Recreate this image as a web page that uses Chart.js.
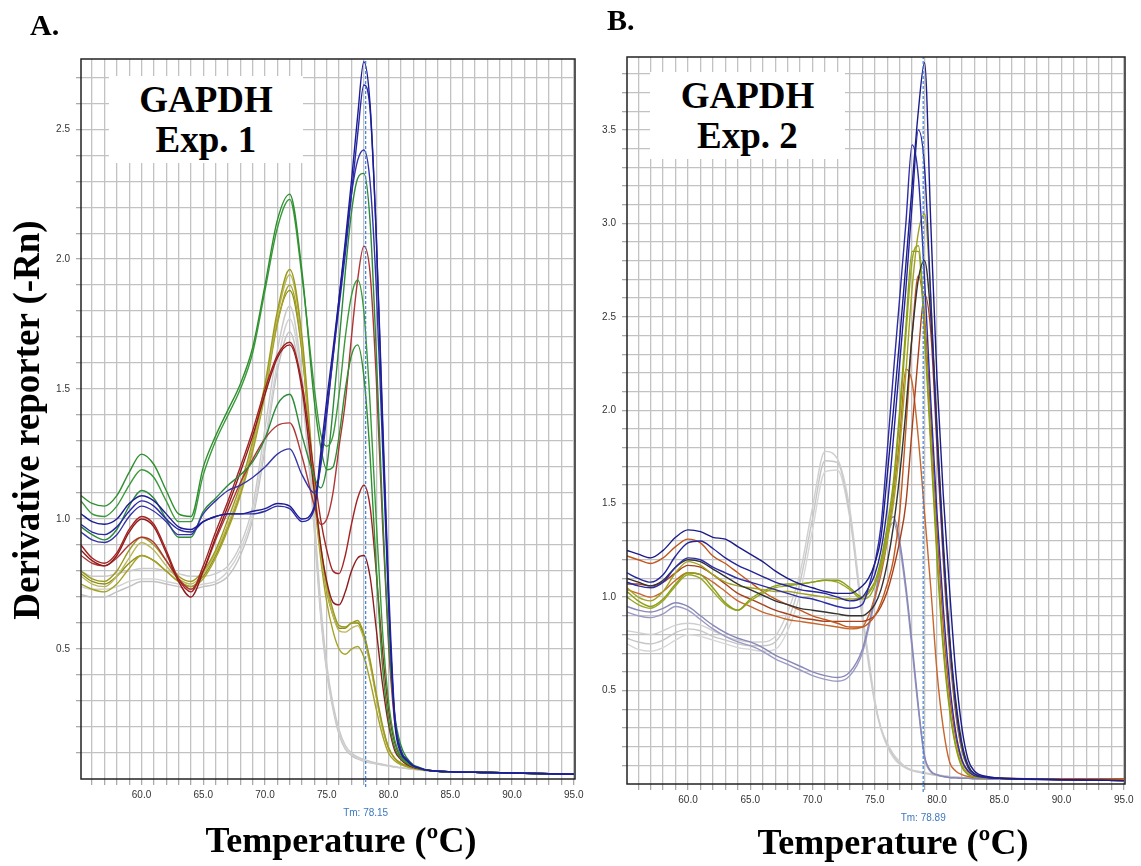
<!DOCTYPE html>
<html>
<head>
<meta charset="utf-8">
<script src="https://cdn.jsdelivr.net/npm/chart.js@4.4.0/dist/chart.umd.min.js"></script>
<style>
  body { margin: 0; background: #fff; width: 1141px; height: 866px; position: relative; overflow: hidden; }
  canvas { position: absolute; top: 0; }
  .t { position: absolute; font-family: "Liberation Serif", "Times New Roman", serif; font-weight: bold; color: #000; white-space: nowrap; }
  .box { position: absolute; background: #fff; text-align: center; font-family: "Liberation Serif", serif; font-weight: bold; font-size: 37px; line-height: 40px; padding-top: 4px; box-sizing: border-box; }
</style>
</head>
<body>
<canvas id="chartA" width="590" height="866" style="left:0px"></canvas>
<canvas id="chartB" width="551" height="866" style="left:590px"></canvas>

<div class="t" style="left:30px;top:10px;font-size:30px;line-height:30px">A.</div>
<div class="t" style="left:607px;top:5px;font-size:30px;line-height:30px">B.</div>
<div class="box" style="left:109px;top:76px;width:194px;height:87px">GAPDH<br>Exp. 1</div>
<div class="box" style="left:650px;top:72px;width:195px;height:87px">GAPDH<br>Exp. 2</div>
<div class="t" style="left:-223px;top:400px;width:500px;height:40px;line-height:40px;text-align:center;font-size:37px;transform:rotate(-90deg)">Derivative reporter (-Rn)</div>
<div class="t" style="left:141px;top:820px;width:400px;line-height:40px;text-align:center;font-size:36px">Temperature (ºC)</div>
<div class="t" style="left:693px;top:822px;width:400px;line-height:40px;text-align:center;font-size:36px">Temperature (ºC)</div>

<script>
// temperatures (°C) shared by every curve
const TEMPS = [55.1, 56, 57, 58, 59, 60, 61, 62, 63, 64, 65, 66, 67, 68, 69, 70, 71, 72, 73,
  74, 74.5, 75, 75.5, 76, 76.5, 77, 77.5, 78, 78.5, 79, 79.5, 80, 80.5, 81, 81.5, 82, 82.5,
  83, 84, 85, 88, 91, 95];

const X_LABELS = [60, 65, 70, 75, 80, 85, 90, 95];
const Y_LABELS_A = [0.5, 1.0, 1.5, 2.0, 2.5];
const Y_LABELS_B = [0.5, 1.0, 1.5, 2.0, 2.5, 3.0, 3.5];

// ---- Exp. 1 (panel A) ----
const A_BLUE_1 = [1.02,0.99,0.98,1.0,1.06,1.09,1.07,1.02,0.97,0.96,0.99,1.01,1.02,1.02,1.03,1.04,1.06,1.05,1.0,
  1.05,1.25,1.46,1.65,1.85,2.07,2.3,2.55,2.76,2.6,2.1,1.38,0.7,0.22,0.1,0.07,0.05,0.042,
  0.035,0.03,0.028,0.025,0.022,0.018];
const A_BLUE_2 = [0.98,0.95,0.94,0.97,1.03,1.07,1.05,1.0,0.96,0.95,0.99,1.01,1.02,1.02,1.02,1.03,1.05,1.04,0.99,
  1.04,1.22,1.42,1.62,1.82,2.02,2.25,2.48,2.67,2.58,2.1,1.42,0.75,0.25,0.11,0.075,0.052,0.043,
  0.035,0.03,0.028,0.025,0.022,0.018];
const A_BLUE_3 = [0.95,0.92,0.91,0.94,1.01,1.05,1.03,0.99,0.94,0.94,1.02,1.07,1.11,1.13,1.16,1.2,1.25,1.27,1.17,
  1.1,1.2,1.4,1.62,1.85,2.05,2.25,2.38,2.42,2.3,1.9,1.3,0.68,0.24,0.11,0.072,0.05,0.042,
  0.035,0.03,0.028,0.025,0.022,0.018];
const A_GREEN_1 = [1.09,1.06,1.05,1.09,1.18,1.25,1.21,1.11,1.02,1.01,1.2,1.32,1.42,1.52,1.66,1.9,2.15,2.25,1.95,
  1.45,1.28,1.19,1.2,1.32,1.5,1.63,1.67,1.55,1.25,0.82,0.44,0.23,0.12,0.08,0.06,0.048,0.04,
  0.035,0.03,0.028,0.025,0.022,0.018];
const A_GREEN_2 = [1.07,1.02,1.01,1.05,1.13,1.19,1.16,1.07,0.99,0.99,1.17,1.3,1.4,1.5,1.64,1.88,2.12,2.23,1.93,
  1.5,1.33,1.28,1.32,1.48,1.7,1.86,1.92,1.8,1.45,1.0,0.58,0.3,0.15,0.09,0.065,0.05,0.042,
  0.035,0.03,0.028,0.025,0.022,0.018];
const A_GREEN_3 = [0.97,0.94,0.92,0.96,1.05,1.11,1.08,1.0,0.93,0.93,1.03,1.08,1.13,1.17,1.22,1.31,1.44,1.48,1.32,
  1.16,1.12,1.2,1.42,1.68,1.95,2.18,2.31,2.33,2.15,1.65,1.05,0.55,0.25,0.13,0.08,0.055,0.045,
  0.035,0.03,0.028,0.025,0.022,0.018];
const A_RED_1 = [0.9,0.85,0.83,0.87,0.96,1.01,0.98,0.88,0.77,0.72,0.82,0.95,1.07,1.2,1.34,1.5,1.63,1.68,1.52,
  1.17,1.0,0.88,0.8,0.79,0.86,0.98,1.08,1.13,1.05,0.8,0.5,0.27,0.14,0.085,0.06,0.046,0.04,
  0.035,0.03,0.028,0.025,0.022,0.018];
const A_RED_2 = [0.88,0.84,0.82,0.86,0.95,1.0,0.97,0.87,0.76,0.7,0.8,0.93,1.05,1.18,1.32,1.48,1.62,1.67,1.5,
  1.1,0.9,0.76,0.68,0.67,0.72,0.8,0.85,0.86,0.78,0.58,0.37,0.21,0.11,0.075,0.055,0.045,0.04,
  0.035,0.03,0.028,0.025,0.022,0.018];
const A_RED_3 = [0.86,0.83,0.82,0.85,0.9,0.93,0.91,0.84,0.77,0.73,0.8,0.92,1.03,1.14,1.23,1.31,1.36,1.37,1.24,
  1.05,0.98,1.0,1.1,1.28,1.45,1.7,1.92,2.05,1.95,1.55,1.0,0.52,0.22,0.11,0.07,0.05,0.042,
  0.035,0.03,0.028,0.025,0.022,0.018];
const A_OLIVE_1 = [0.8,0.77,0.76,0.8,0.88,0.93,0.9,0.84,0.78,0.76,0.8,0.88,1.0,1.13,1.3,1.52,1.8,1.96,1.7,
  1.13,0.9,0.75,0.65,0.59,0.585,0.6,0.61,0.56,0.46,0.33,0.21,0.12,0.08,0.06,0.05,0.042,0.038,
  0.034,0.03,0.028,0.025,0.022,0.018];
const A_OLIVE_2 = [0.78,0.75,0.74,0.78,0.85,0.91,0.88,0.82,0.77,0.75,0.79,0.87,0.98,1.11,1.28,1.5,1.78,1.94,1.68,
  1.1,0.88,0.73,0.63,0.57,0.565,0.58,0.59,0.54,0.44,0.32,0.2,0.12,0.08,0.06,0.05,0.042,0.038,
  0.034,0.03,0.028,0.025,0.022,0.018];
const A_OLIVE_3 = [0.75,0.73,0.72,0.75,0.81,0.86,0.84,0.8,0.76,0.74,0.77,0.85,0.96,1.09,1.26,1.48,1.75,1.9,1.65,
  1.08,0.85,0.68,0.57,0.5,0.48,0.5,0.51,0.47,0.38,0.27,0.17,0.1,0.07,0.055,0.047,0.04,0.037,
  0.034,0.03,0.028,0.025,0.022,0.018];
const A_OLIVE_4 = [0.79,0.76,0.75,0.78,0.83,0.86,0.84,0.8,0.76,0.74,0.78,0.86,0.97,1.1,1.27,1.49,1.76,1.88,1.64,
  1.1,0.88,0.72,0.63,0.58,0.58,0.6,0.6,0.55,0.45,0.32,0.2,0.12,0.08,0.06,0.05,0.042,0.038,
  0.034,0.03,0.028,0.025,0.022,0.018];
const A_GRAY_1 = [0.8,0.78,0.78,0.79,0.8,0.81,0.81,0.8,0.79,0.78,0.78,0.79,0.82,0.9,1.05,1.35,1.65,1.82,1.55,
  1.0,0.68,0.44,0.29,0.19,0.13,0.1,0.085,0.075,0.068,0.062,0.057,0.052,0.048,0.044,0.041,0.038,0.035,
  0.032,0.03,0.028,0.025,0.022,0.018];
const A_GRAY_2 = [0.74,0.73,0.73,0.74,0.76,0.77,0.77,0.76,0.75,0.74,0.75,0.76,0.8,0.88,1.02,1.3,1.6,1.77,1.52,
  0.97,0.65,0.42,0.28,0.18,0.12,0.095,0.08,0.07,0.064,0.06,0.055,0.05,0.046,0.043,0.04,0.037,0.034,
  0.032,0.03,0.028,0.025,0.022,0.018];
const A_GRAY_3 = [0.71,0.7,0.7,0.72,0.74,0.76,0.76,0.75,0.74,0.73,0.74,0.75,0.78,0.86,1.0,1.27,1.57,1.72,1.48,
  0.95,0.63,0.41,0.27,0.17,0.115,0.09,0.077,0.068,0.062,0.058,0.054,0.05,0.046,0.043,0.04,0.037,0.034,
  0.032,0.03,0.028,0.025,0.022,0.018];

// ---- Exp. 2 (panel B) ----
const B_NAVY_1 = [1.25,1.23,1.21,1.25,1.32,1.36,1.35,1.32,1.31,1.27,1.23,1.19,1.14,1.1,1.07,1.05,1.03,1.02,1.02,
  1.06,1.1,1.18,1.32,1.65,2.0,2.38,2.78,3.2,3.6,3.86,3.0,2.17,1.55,1.05,0.6,0.3,0.13,
  0.07,0.04,0.032,0.026,0.022,0.018];
const B_NAVY_2 = [1.13,1.1,1.08,1.12,1.22,1.29,1.3,1.26,1.21,1.17,1.14,1.11,1.08,1.06,1.04,1.03,1.02,1.0,0.98,
  1.0,1.05,1.12,1.25,1.48,1.85,2.25,2.65,3.1,3.5,3.3,2.6,1.85,1.25,0.78,0.42,0.2,0.09,
  0.055,0.035,0.03,0.025,0.022,0.018];
const B_NAVY_3 = [1.08,1.06,1.05,1.08,1.16,1.21,1.2,1.16,1.13,1.1,1.08,1.06,1.04,1.02,1.0,0.99,0.97,0.95,0.94,
  0.96,1.05,1.18,1.38,1.78,2.2,2.6,3.0,3.42,3.25,2.7,2.05,1.45,0.95,0.55,0.28,0.13,0.07,
  0.045,0.035,0.03,0.025,0.022,0.018];
const B_BLACK = [1.1,1.08,1.06,1.09,1.16,1.2,1.19,1.15,1.11,1.07,1.04,1.01,0.98,0.96,0.94,0.93,0.92,0.91,0.9,
  0.9,0.92,0.96,1.04,1.18,1.38,1.65,2.0,2.4,2.7,2.8,2.5,1.9,1.3,0.8,0.45,0.22,0.1,
  0.055,0.037,0.03,0.026,0.022,0.018];
const B_OLIVE_1 = [1.05,1.0,0.98,1.03,1.13,1.19,1.17,1.12,1.08,1.06,1.05,1.04,1.03,1.03,1.02,1.01,1.0,0.99,0.99,
  1.0,1.03,1.08,1.15,1.3,1.5,1.8,2.2,2.65,2.95,3.05,2.6,1.9,1.25,0.75,0.4,0.18,0.085,
  0.05,0.035,0.03,0.026,0.022,0.018];
const B_OLIVE_2 = [1.03,0.98,0.95,0.99,1.07,1.13,1.12,1.05,0.97,0.93,0.99,1.03,1.06,1.07,1.07,1.08,1.09,1.09,1.05,
  1.0,1.02,1.08,1.2,1.38,1.62,2.0,2.45,2.85,2.85,2.4,1.8,1.2,0.72,0.4,0.2,0.09,0.05,
  0.038,0.032,0.03,0.026,0.022,0.018];
const B_OLIVE_3 = [1.0,0.96,0.94,0.98,1.06,1.12,1.1,1.03,0.96,0.93,0.98,1.02,1.05,1.06,1.07,1.08,1.09,1.08,1.04,
  0.99,1.0,1.06,1.17,1.34,1.58,1.95,2.4,2.8,2.88,2.45,1.85,1.25,0.75,0.42,0.21,0.1,0.055,
  0.038,0.032,0.03,0.026,0.022,0.018];
const B_ORANGE_1 = [1.22,1.2,1.18,1.21,1.27,1.31,1.29,1.22,1.18,1.13,1.08,1.03,0.99,0.96,0.93,0.9,0.88,0.86,0.84,
  0.84,0.86,0.9,0.97,1.07,1.2,1.45,1.9,2.4,2.72,2.5,1.95,1.35,0.85,0.48,0.25,0.12,0.065,
  0.045,0.035,0.03,0.028,0.028,0.028];
const B_ORANGE_2 = [1.07,1.07,1.06,1.08,1.13,1.17,1.16,1.12,1.07,1.02,0.99,0.96,0.93,0.91,0.89,0.88,0.87,0.87,0.87,
  0.87,0.88,0.9,0.95,1.03,1.15,1.3,1.5,1.9,2.3,2.62,2.42,1.8,1.2,0.72,0.38,0.18,0.09,
  0.055,0.038,0.032,0.028,0.028,0.028];
const B_ORANGE_3 = [1.04,1.02,1.0,1.03,1.09,1.13,1.12,1.08,1.03,0.98,0.95,0.92,0.9,0.88,0.87,0.86,0.85,0.84,0.83,
  0.84,0.9,1.0,1.12,1.3,1.55,1.85,2.22,2.15,1.85,1.45,1.05,0.6,0.3,0.12,0.07,0.05,0.04,
  0.035,0.032,0.03,0.028,0.028,0.028];
const B_LAV_1 = [0.95,0.93,0.92,0.94,0.97,0.95,0.9,0.85,0.81,0.78,0.76,0.73,0.69,0.66,0.63,0.6,0.58,0.57,0.6,
  0.72,0.85,1.0,1.18,1.36,1.43,1.3,1.06,0.75,0.42,0.15,0.07,0.05,0.04,0.035,0.033,0.031,0.03,
  0.028,0.027,0.026,0.024,0.022,0.02];
const B_LAV_2 = [0.92,0.9,0.89,0.91,0.95,0.93,0.88,0.83,0.79,0.76,0.74,0.71,0.67,0.64,0.61,0.58,0.56,0.55,0.58,
  0.7,0.83,0.98,1.16,1.33,1.4,1.27,1.03,0.72,0.4,0.14,0.065,0.048,0.04,0.035,0.033,0.031,0.03,
  0.028,0.027,0.026,0.024,0.022,0.02];
const B_GRAY_1 = [0.82,0.81,0.8,0.82,0.85,0.86,0.85,0.82,0.79,0.77,0.76,0.76,0.79,0.92,1.13,1.48,1.78,1.74,1.47,
  0.92,0.68,0.45,0.3,0.22,0.16,0.12,0.09,0.075,0.068,0.06,0.055,0.05,0.045,0.04,0.037,0.035,0.033,
  0.03,0.028,0.027,0.025,0.024,0.022];
const B_GRAY_2 = [0.78,0.76,0.75,0.77,0.81,0.83,0.82,0.79,0.77,0.75,0.74,0.74,0.76,0.87,1.08,1.42,1.73,1.72,1.44,
  0.9,0.66,0.44,0.3,0.21,0.15,0.11,0.088,0.073,0.065,0.058,0.052,0.047,0.043,0.039,0.036,0.034,0.032,
  0.03,0.028,0.027,0.025,0.024,0.022];
const B_GRAY_3 = [0.75,0.72,0.71,0.73,0.77,0.8,0.79,0.77,0.75,0.73,0.72,0.71,0.72,0.82,1.02,1.36,1.67,1.68,1.42,
  0.88,0.64,0.43,0.29,0.2,0.14,0.105,0.085,0.07,0.062,0.056,0.05,0.046,0.042,0.038,0.036,0.034,0.032,
  0.03,0.028,0.027,0.025,0.024,0.022];

const TICK_FONT = { family: "'Liberation Sans', Arial, sans-serif", size: 10 };
const TM_COLOR = "#3d7fd6";

// outer frame + Tm marker text under the axis
const framePlugin = {
  id: "frame",
  afterDraw(chart, args, opts) {
    const { ctx, chartArea: a, scales } = chart;
    ctx.save();
    ctx.strokeStyle = "#222";
    ctx.lineWidth = 1.5;
    ctx.strokeRect(a.left, a.top, a.width, a.height);
    const x = scales.x.getPixelForValue(opts.tm);
    ctx.strokeStyle = TM_COLOR;
    ctx.lineWidth = 1.2;
    ctx.setLineDash([3, 2]);
    ctx.beginPath();
    ctx.moveTo(x, a.bottom);
    ctx.lineTo(x, a.bottom + 10);
    ctx.stroke();
    ctx.setLineDash([]);
    ctx.fillStyle = "#3c78c0";
    ctx.font = "10px 'Liberation Sans', sans-serif";
    ctx.textAlign = "center";
    ctx.textBaseline = "middle";
    ctx.fillText("Tm: " + opts.tm.toFixed(2), x, a.bottom + 34);
    ctx.restore();
  },
};

function line(vals, color) {
  return {
    data: vals.map((y, i) => ({ x: TEMPS[i], y: y })),
    borderColor: color,
    borderWidth: 1.4,
    pointRadius: 0,
    fill: false,
    cubicInterpolationMode: "monotone",
  };
}

function buildChart(id, cfg) {
  const tmLine = {
    data: [{ x: cfg.tm, y: 0 }, { x: cfg.tm, y: cfg.yMax }],
    borderColor: TM_COLOR,
    borderWidth: 1.2,
    borderDash: [3, 2],
    pointRadius: 0,
    tension: 0,
  };
  const grid = { color: "#c2c2c2", lineWidth: 1.3, tickColor: "#aaa" };

  return new Chart(document.getElementById(id), {
    type: "line",
    data: { datasets: [tmLine].concat(cfg.series.map((s) => line(s[0], s[1]))) },
    options: {
      responsive: false,
      animation: false,
      layout: { padding: cfg.padding },
      plugins: { legend: { display: false }, tooltip: { enabled: false }, frame: { tm: cfg.tm } },
      scales: {
        x: {
          type: "linear",
          min: 55.1,
          max: 95.1,
          afterBuildTicks: (s) => {
            const t = [];
            for (let v = 56; v <= 95; v++) t.push({ value: v });
            s.ticks = t;
          },
          afterFit: (s) => { s.height = 40; },
          ticks: {
            autoSkip: false,
            maxRotation: 0,
            padding: 4,
            color: "#333",
            font: TICK_FONT,
            callback: (v) => (X_LABELS.includes(v) ? v.toFixed(1) : ""),
          },
          grid: Object.assign({ tickLength: 6 }, grid),
          border: { display: false },
        },
        y: {
          min: 0,
          max: cfg.yMax,
          afterBuildTicks: (s) => {
            const t = [];
            for (let k = 1; k / 10 < cfg.yMax; k++) t.push({ value: k / 10 });
            s.ticks = t;
          },
          afterFit: (s) => { s.width = cfg.yWidth; },
          ticks: {
            padding: 6,
            color: "#333",
            font: TICK_FONT,
            callback: (v) => (cfg.yLabels.some((l) => Math.abs(l - v) < 1e-6) ? v.toFixed(1) : ""),
          },
          grid: Object.assign({ tickLength: 5 }, grid),
          border: { display: false },
        },
      },
    },
    plugins: [framePlugin],
  });
}

buildChart("chartA", {
  tm: 78.15,
  yMax: 2.77,
  yLabels: Y_LABELS_A,
  yWidth: 40,
  padding: { left: 41, top: 59, right: 15, bottom: 47 },
  series: [
    [A_BLUE_1, "#1c1c96"], [A_BLUE_2, "#2a2aa6"], [A_BLUE_3, "#3434a8"],
    [A_GREEN_1, "#2f8f2f"], [A_GREEN_2, "#3a9a3a"], [A_GREEN_3, "#2d8a3a"],
    [A_RED_1, "#a52222"], [A_RED_2, "#8f1c1c"], [A_RED_3, "#b03636"],
    [A_OLIVE_1, "#9a9a1c"], [A_OLIVE_2, "#bcb65a"], [A_OLIVE_3, "#a6a226"], [A_OLIVE_4, "#8e8e16"],
    [A_GRAY_1, "#cacaca"], [A_GRAY_2, "#d2d2d2"], [A_GRAY_3, "#c2c2c2"],
  ],
});

buildChart("chartB", {
  tm: 78.89,
  yMax: 3.89,
  yLabels: Y_LABELS_B,
  yWidth: 36,
  padding: { left: 1, top: 57, right: 16, bottom: 42 },
  series: [
    [B_NAVY_1, "#1b1b8a"], [B_NAVY_2, "#24249c"], [B_NAVY_3, "#2d2da8"], [B_BLACK, "#333333"],
    [B_OLIVE_1, "#a2a21e"], [B_OLIVE_2, "#8aa014"], [B_OLIVE_3, "#9aa628"],
    [B_ORANGE_1, "#c2561c"], [B_ORANGE_2, "#a8401a"], [B_ORANGE_3, "#c8662c"],
    [B_LAV_1, "#8888b8"], [B_LAV_2, "#9a9ac4"],
    [B_GRAY_1, "#cfcfcf"], [B_GRAY_2, "#c6c6c6"], [B_GRAY_3, "#d6d6d6"],
  ],
});
</script>
</body>
</html>
